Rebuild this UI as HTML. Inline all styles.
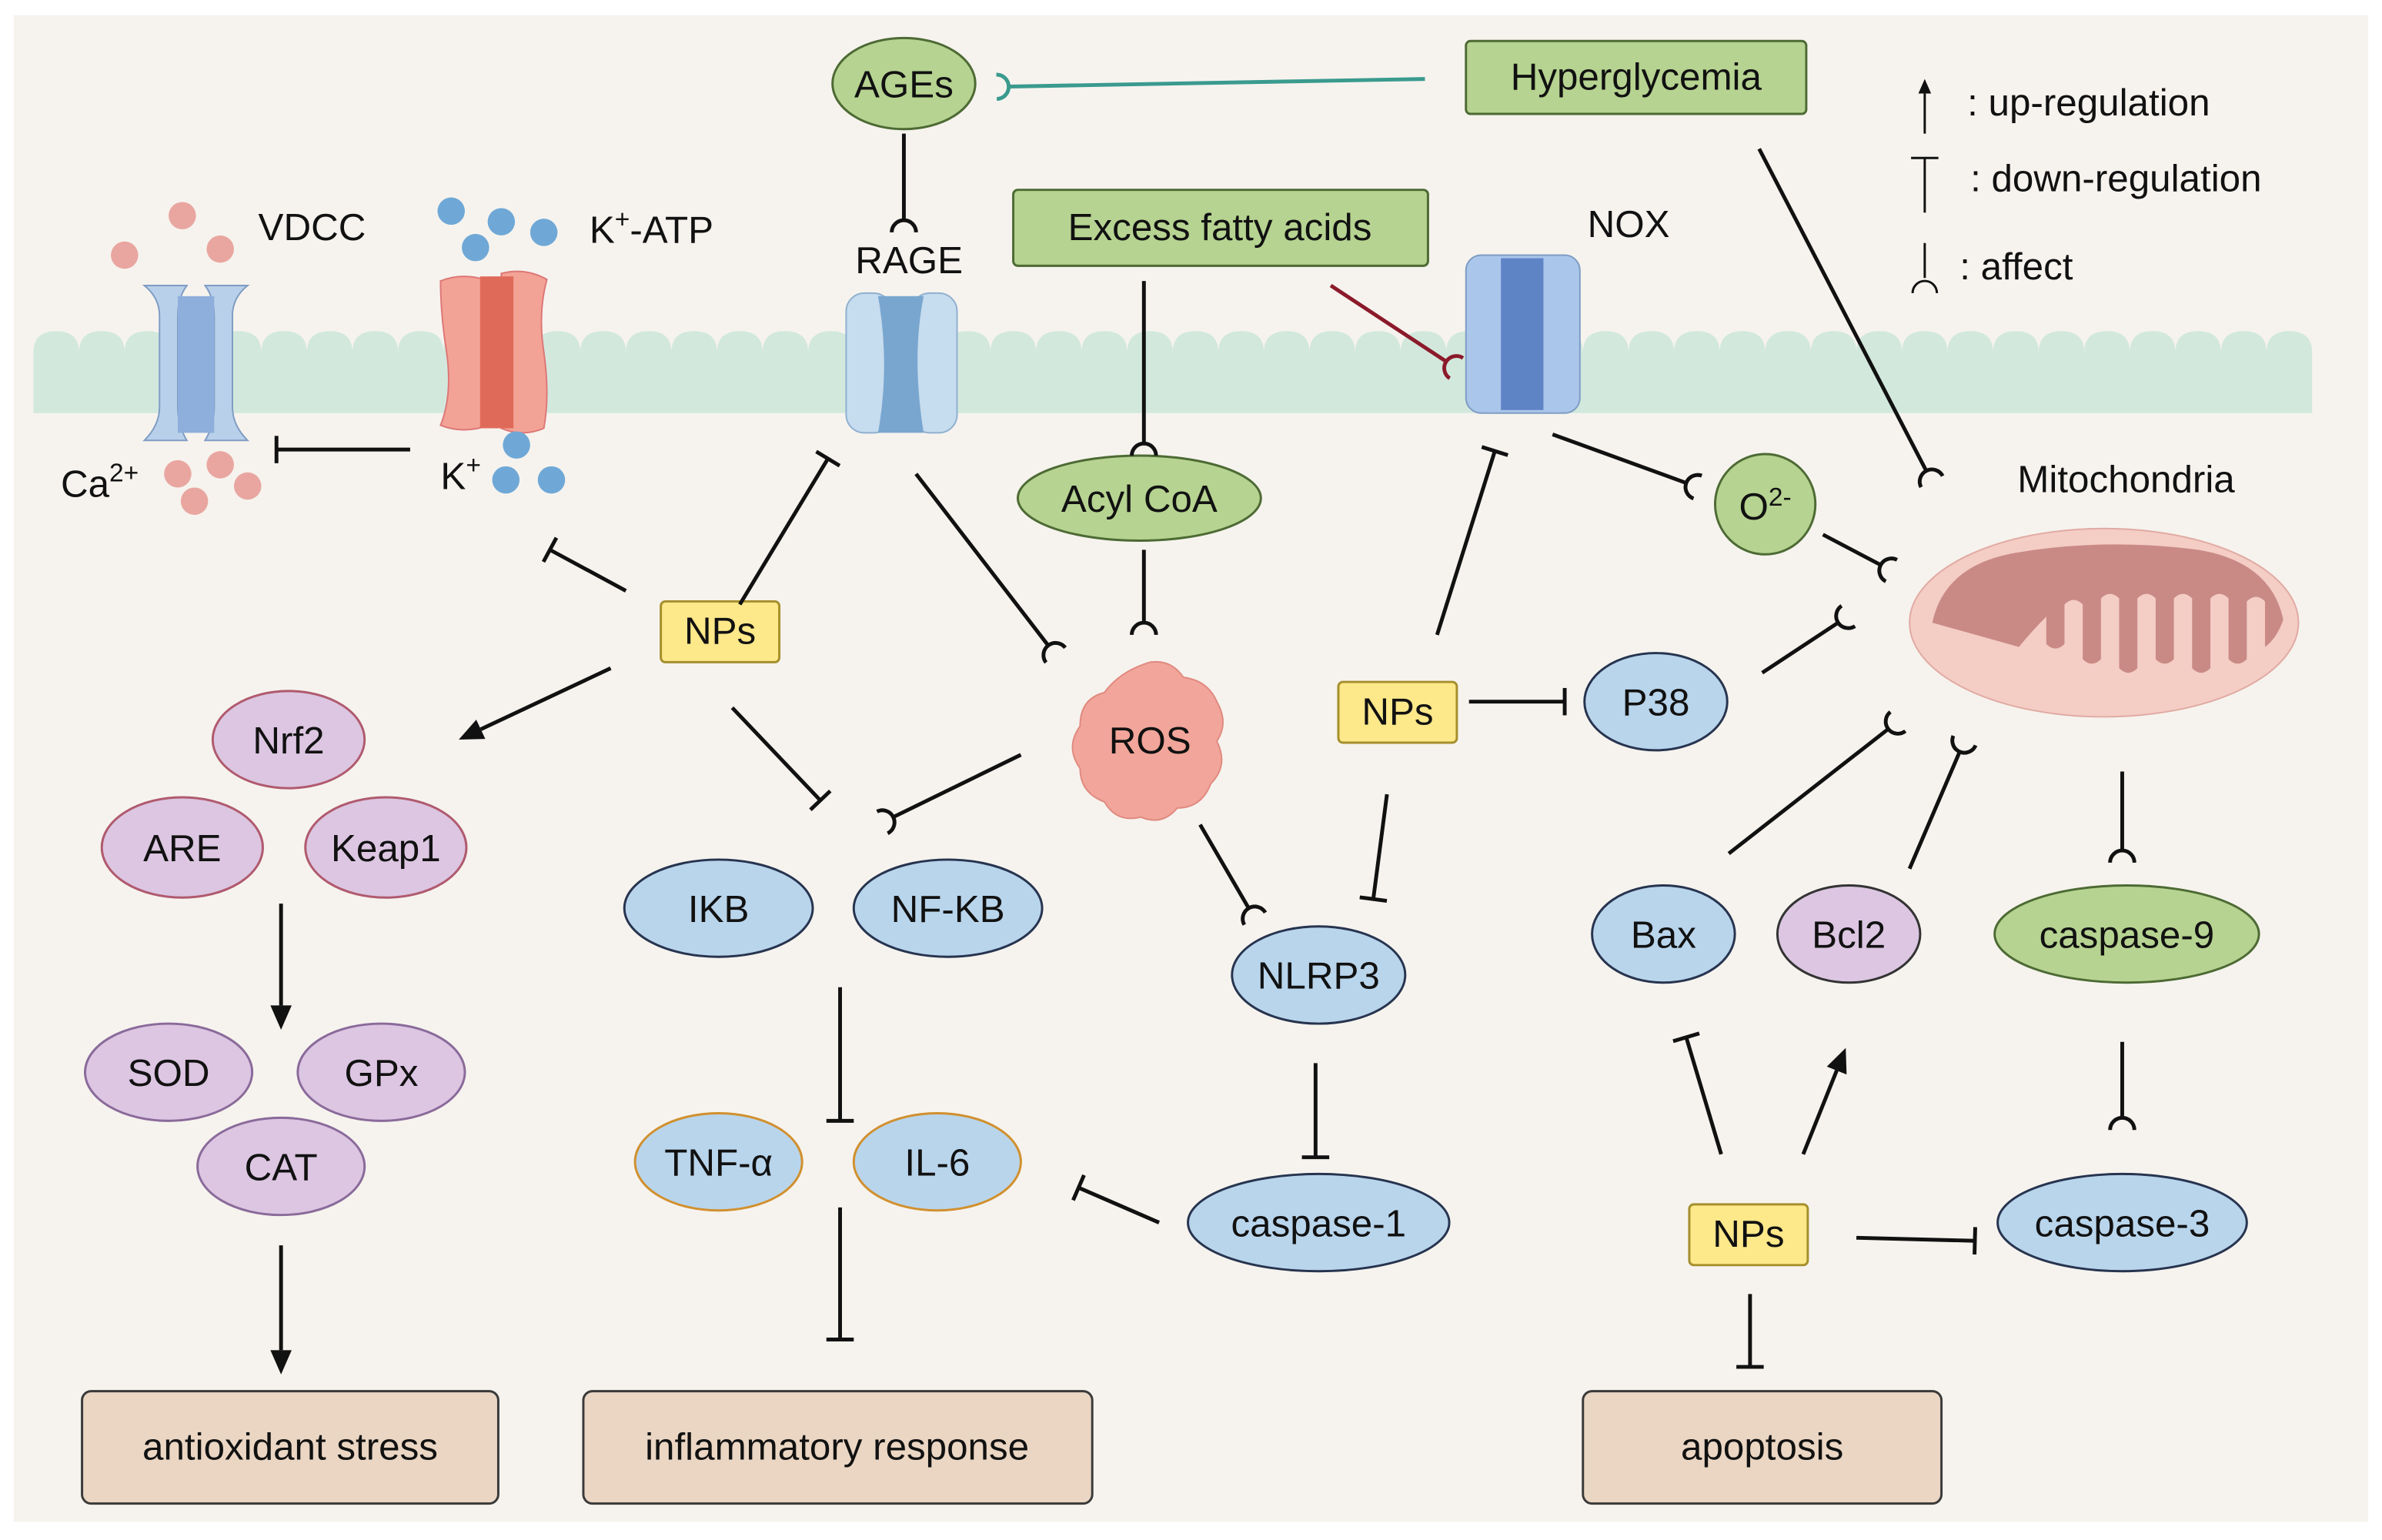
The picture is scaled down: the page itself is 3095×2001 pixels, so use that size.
<!DOCTYPE html>
<html><head><meta charset="utf-8">
<style>
html,body{margin:0;padding:0;background:#fff;}
svg{display:block;}
text{font-family:"Liberation Sans",sans-serif;fill:#111;}
</style></head>
<body>
<svg id="s" width="3095" height="2001" viewBox="0 0 1568 1014" preserveAspectRatio="none" xmlns="http://www.w3.org/2000/svg">
<rect x="0" y="0" width="1568" height="1014" fill="#fff"/>
<rect x="9" y="10" width="1550" height="992" fill="#f6f3ee"/>
<g id="mem"></g>
<g>
 <path d="M95,188 h28 q-6,8 -6,20 v60 q0,12 6,22 h-28 q10,-10 10,-22 v-60 q0,-12 -10,-20z" fill="#b9d0ea" stroke="#7f9cc4"/>
 <path d="M135,188 h28 q-10,8 -10,20 v60 q0,12 10,22 h-28 q6,-10 6,-22 v-60 q0,-12 -6,-20z" fill="#b9d0ea" stroke="#7f9cc4"/>
 <rect x="117" y="195" width="24" height="90" fill="#8eaedb"/>
 <path d="M290,185 q15,-6 32,0 v95 q-17,6 -32,0 q8,-20 4,-48 q-4,-25 -4,-47z" fill="#f3a396" stroke="#d77"/>
 <path d="M330,180 q16,-4 30,4 q-6,22 -2,48 q4,28 0,50 q-14,6 -28,0z" fill="#f3a396" stroke="#d77"/>
 <rect x="316" y="182" width="22" height="100" fill="#e06a5a"/>
 <rect x="557" y="193" width="30" height="92" rx="12" fill="#c6dcef" stroke="#8fb0d0"/>
 <rect x="600" y="193" width="30" height="92" rx="12" fill="#c6dcef" stroke="#8fb0d0"/>
 <path d="M578,195 h30 q-8,40 0,90 h-30 q8,-45 0,-90z" fill="#79a6cf"/>
 <rect x="965" y="168" width="75" height="104" rx="10" fill="#aac6ea" stroke="#7f9cc4"/>
 <rect x="988" y="170" width="28" height="100" fill="#5f84c6"/>
</g>
<g fill="#e9a6a0">
 <circle cx="120" cy="142" r="9"/><circle cx="82" cy="168" r="9"/><circle cx="145" cy="164" r="9"/>
 <circle cx="117" cy="312" r="9"/><circle cx="145" cy="306" r="9"/><circle cx="128" cy="330" r="9"/><circle cx="163" cy="320" r="9"/>
</g>
<g fill="#6fa8d6">
 <circle cx="297" cy="139" r="9"/><circle cx="330" cy="146" r="9"/><circle cx="358" cy="153" r="9"/><circle cx="313" cy="163" r="9"/>
 <circle cx="340" cy="293" r="9"/><circle cx="333" cy="316" r="9"/><circle cx="363" cy="316" r="9"/>
</g>
<g>
 <ellipse cx="1385" cy="410" rx="128" ry="62" fill="#f4cdc5" stroke="#e0aaa2"/>
 <path d="M1272,410 q8,-38 55,-46 q58,-10 120,-2 q48,8 56,46 q-4,12 -12,18 v-30 q-6,-6 -12,0 v38 q-6,6 -12,0 v-40 q-6,-6 -12,0 v46 q-6,6 -12,0 v-46 q-6,-6 -12,0 v40 q-6,6 -12,0 v-40 q-6,-6 -12,0 v46 q-6,6 -12,0 v-46 q-6,-6 -12,0 v40 q-6,6 -12,0 v-36 q-6,-6 -12,0 v26 q-6,6 -12,0 v-18 q-10,10 -18,20 z" fill="#c98a86"/>
</g>
<path d="M757,436 q14,-2 22,10 q16,2 22,16 q8,14 0,26 q8,16 -4,28 q-6,16 -22,16 q-10,12 -24,6 q-16,4 -24,-10 q-16,-6 -16,-22 q-10,-14 0,-28 q0,-18 16,-22 q10,-14 30,-20z" fill="#f2a59a" stroke="#e08a80"/>
<text x="757" y="496" font-size="25" text-anchor="middle">ROS</text>
<g fill="#b6d391" stroke="#4d6a34" stroke-width="1.5">
 <ellipse cx="595" cy="55" rx="47" ry="30"/>
 <rect x="965" y="27" width="224" height="48" rx="3"/>
 <rect x="667" y="125" width="273" height="50" rx="3"/>
 <ellipse cx="750" cy="328" rx="80" ry="28"/>
 <circle cx="1162" cy="332" r="33"/>
 <ellipse cx="1400" cy="615" rx="87" ry="32"/>
</g>
<g fill="#dcc6e2" stroke="#b05a6e" stroke-width="1.5">
 <ellipse cx="190" cy="487" rx="50" ry="32"/>
 <ellipse cx="120" cy="558" rx="53" ry="33"/>
 <ellipse cx="254" cy="558" rx="53" ry="33"/>
</g>
<g fill="#dcc6e2" stroke="#8a6a9a" stroke-width="1.5">
 <ellipse cx="111" cy="706" rx="55" ry="32"/>
 <ellipse cx="251" cy="706" rx="55" ry="32"/>
 <ellipse cx="185" cy="768" rx="55" ry="32"/>
 <ellipse cx="1217" cy="615" rx="47" ry="32" stroke="#333"/>
</g>
<g fill="#b9d5ec" stroke="#27344f" stroke-width="1.5">
 <ellipse cx="473" cy="598" rx="62" ry="32"/>
 <ellipse cx="624" cy="598" rx="62" ry="32"/>
 <ellipse cx="868" cy="642" rx="57" ry="32"/>
 <ellipse cx="868" cy="805" rx="86" ry="32"/>
 <ellipse cx="1090" cy="462" rx="47" ry="32"/>
 <ellipse cx="1095" cy="615" rx="47" ry="32"/>
 <ellipse cx="1397" cy="805" rx="82" ry="32"/>
</g>
<g fill="#b9d5ec" stroke="#d1902e" stroke-width="1.5">
 <ellipse cx="473" cy="765" rx="55" ry="32"/>
 <ellipse cx="617" cy="765" rx="55" ry="32"/>
</g>
<g fill="#fde88a" stroke="#a58f2c" stroke-width="1.5">
 <rect x="435" y="396" width="78" height="40" rx="3"/>
 <rect x="881" y="449" width="78" height="40" rx="3"/>
 <rect x="1112" y="793" width="78" height="40" rx="3"/>
</g>
<g fill="#ead6c3" stroke="#3a3a3a" stroke-width="1.5">
 <rect x="54" y="916" width="274" height="74" rx="6"/>
 <rect x="384" y="916" width="335" height="74" rx="6"/>
 <rect x="1042" y="916" width="236" height="74" rx="6"/>
</g>
<g id="conn" fill="none" stroke="#111" stroke-width="2.5"></g>
<g font-size="25" text-anchor="middle">
 <text x="595" y="64">AGEs</text>
 <text x="1077" y="59">Hyperglycemia</text>
 <text x="803" y="158">Excess fatty acids</text>
 <text x="750" y="337">Acyl CoA</text>
 <text x="1162" y="342">O<tspan font-size="17" dy="-9">2-</tspan></text>
 <text x="1400" y="624">caspase-9</text>
 <text x="190" y="496">Nrf2</text>
 <text x="120" y="567">ARE</text>
 <text x="254" y="567">Keap1</text>
 <text x="111" y="715">SOD</text>
 <text x="251" y="715">GPx</text>
 <text x="185" y="777">CAT</text>
 <text x="1217" y="624">Bcl2</text>
 <text x="473" y="607">IKB</text>
 <text x="624" y="607">NF-KB</text>
 <text x="868" y="651">NLRP3</text>
 <text x="868" y="814">caspase-1</text>
 <text x="1090" y="471">P38</text>
 <text x="1095" y="624">Bax</text>
 <text x="1397" y="814">caspase-3</text>
 <text x="473" y="774">TNF-α</text>
 <text x="617" y="774">IL-6</text>
 <text x="474" y="424">NPs</text>
 <text x="920" y="477">NPs</text>
 <text x="1151" y="821">NPs</text>
 <text x="191" y="961">antioxidant stress</text>
 <text x="551" y="961">inflammatory response</text>
 <text x="1160" y="961">apoptosis</text>
</g>
<g font-size="25">
 <text x="170" y="158">VDCC</text>
 <text x="388" y="160">K<tspan font-size="17" dy="-10">+</tspan><tspan dy="10">-ATP</tspan></text>
 <text x="563" y="180">RAGE</text>
 <text x="1045" y="156">NOX</text>
 <text x="40" y="327">Ca<tspan font-size="17" dy="-10">2+</tspan></text>
 <text x="290" y="322">K<tspan font-size="17" dy="-10">+</tspan></text>
 <text x="1328" y="324">Mitochondria</text>
 <text x="1295" y="76">: up-regulation</text>
 <text x="1297" y="126">: down-regulation</text>
 <text x="1290" y="184">: affect</text>
</g>
<script>
(function(){
 var NS="http://www.w3.org/2000/svg";
 var m=document.getElementById("mem");
 var d="M22,272 L22,232";
 var x=22,w=30;
 while(x+w<=1530){d+=" q0,-14 "+(w/2)+",-14 q"+(w/2)+",0 "+(w/2)+",14"; x+=w;}
 d+=" L"+x+",272 Z";
 var p=document.createElementNS(NS,"path");p.setAttribute("d",d);p.setAttribute("fill","#d2e8dd");m.appendChild(p);
 var g=document.getElementById("conn");
 function el(t,a){var e=document.createElementNS(NS,t);for(var k in a)e.setAttribute(k,a[k]);g.appendChild(e);return e;}
 function c(x1,y1,x2,y2,type,col,sw,hs){
  col=col||"#111";sw=sw||2.5;hs=hs||1;
  var dx=x2-x1,dy=y2-y1,L=Math.sqrt(dx*dx+dy*dy),ux=dx/L,uy=dy/L,nx=-uy,ny=ux;
  if(type=="a"){
   var bx=x2-ux*16*hs,by=y2-uy*16*hs;
   el("line",{x1:x1,y1:y1,x2:bx,y2:by,stroke:col,"stroke-width":sw});
   el("path",{d:"M"+x2+","+y2+" L"+(bx+nx*7*hs)+","+(by+ny*7*hs)+" L"+(bx-nx*7*hs)+","+(by-ny*7*hs)+"Z",fill:col,stroke:"none"});
  } else if(type=="t"){
   el("line",{x1:x1,y1:y1,x2:x2,y2:y2,stroke:col,"stroke-width":sw});
   el("line",{x1:x2+nx*9,y1:y2+ny*9,x2:x2-nx*9,y2:y2-ny*9,stroke:col,"stroke-width":sw});
  } else {
   var r=8;
   el("line",{x1:x1,y1:y1,x2:x2,y2:y2,stroke:col,"stroke-width":sw});
   var cx=x2+ux*r,cy=y2+uy*r;
   el("path",{d:"M"+(cx+nx*r)+","+(cy+ny*r)+" A"+r+","+r+" 0 0 1 "+(cx-nx*r)+","+(cy-ny*r),stroke:col,"stroke-width":sw});
  }
 }
 var L=[
 [595,88,595,145,"c"],[938,52,664,57,"c","#3a9a8e"],[753,185,753,292,"c"],[753,362,753,410,"c"],
 [603,312,690,425,"c"],[876,188,952,238,"c","#8b1a2a"],[1022,286,1110,318,"c"],[1200,352,1238,372,"c"],
 [1160,443,1210,410,"c"],[1158,98,1268,310,"c"],[1138,562,1243,480,"c"],[1257,572,1290,495,"c"],
 [1397,508,1397,560,"c"],[1397,686,1397,736,"c"],[672,497,588,538,"c"],[790,543,822,598,"c"],
 [270,296,182,296,"t"],[412,389,362,362,"t"],[487,398,545,302,"t"],[402,440,302,487,"a"],
 [482,466,540,527,"t"],[946,418,984,297,"t"],[967,462,1030,462,"t"],[913,523,904,592,"t"],
 [185,595,185,678,"a"],[553,650,553,738,"t"],[553,795,553,882,"t"],[866,700,866,762,"t"],
 [763,805,710,782,"t"],[185,820,185,905,"a"],[1133,760,1110,683,"t"],[1187,760,1215,690,"a"],
 [1222,815,1300,817,"t"],[1152,852,1152,900,"t"]];
 L.forEach(function(a){c(a[0],a[1],a[2],a[3],a[4],a[5]);});
 c(1267,88,1267,52,"a","#111",1.5,0.6);
 c(1267,140,1267,104,"t","#111",1.5);
 el("line",{x1:1267,y1:160,x2:1267,y2:183,stroke:"#111","stroke-width":1.5});
 el("path",{d:"M1259,193 A8,8 0 0 1 1275,193",stroke:"#111","stroke-width":1.5});
})();
</script>
</svg>
</body></html>
